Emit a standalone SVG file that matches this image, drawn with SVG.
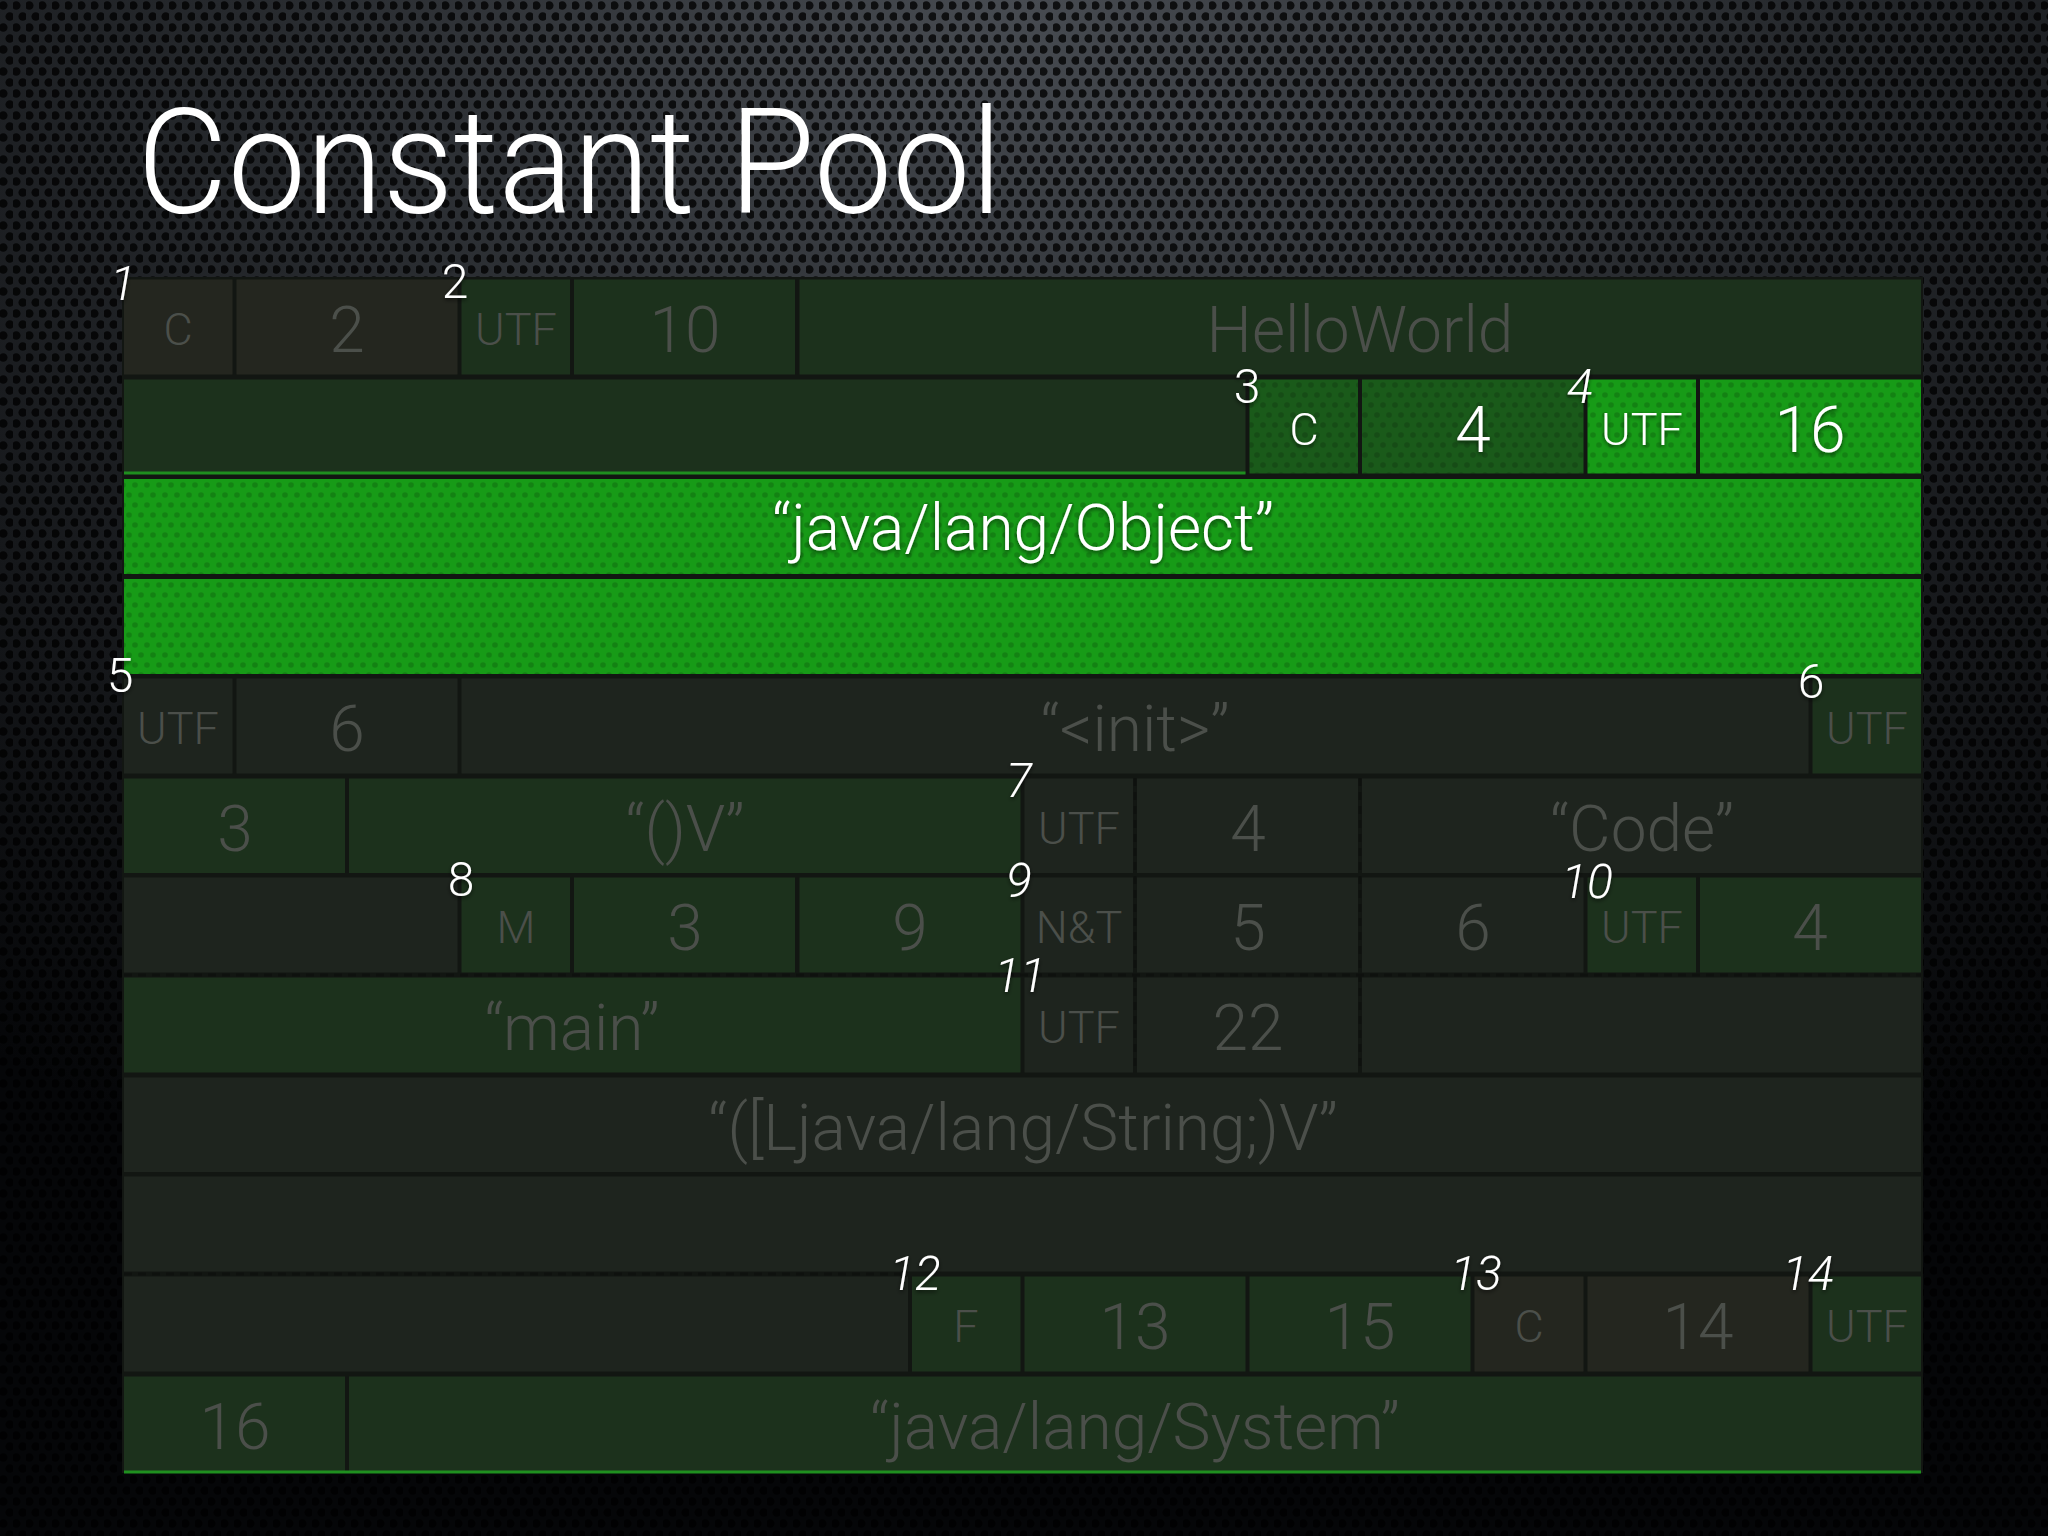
<svg xmlns="http://www.w3.org/2000/svg" width="2048" height="1536" viewBox="0 0 2048 1536">
<defs>
<radialGradient id="bgGrad" cx="50%" cy="0%" r="85%" fx="50%" fy="0%">
<stop offset="0" stop-color="#474b51"/>
<stop offset="0.45" stop-color="#26292d"/>
<stop offset="1" stop-color="#050608"/>
</radialGradient>
<pattern id="mesh" width="13" height="22" patternUnits="userSpaceOnUse">
<circle cx="3.25" cy="5.5" r="4.3" fill="#000" fill-opacity="0.78"/>
<circle cx="9.75" cy="16.5" r="4.3" fill="#000" fill-opacity="0.78"/>
</pattern>
<pattern id="dots" width="12" height="20" patternUnits="userSpaceOnUse">
<circle cx="3" cy="5" r="2.8" fill="#000" fill-opacity="0.16"/>
<circle cx="9" cy="15" r="2.8" fill="#000" fill-opacity="0.16"/>
</pattern>
<filter id="sh" x="-20%" y="-20%" width="140%" height="160%">
<feDropShadow dx="0" dy="2" stdDeviation="2" flood-color="#000" flood-opacity="0.6"/>
</filter>
</defs>
<style>
.g{fill:#179b17}
.gd{fill:#1a5a1a}
.dg{fill:#1c311c}
.dk{fill:#1e241e}
.dc{fill:#24261f}
text{font-family:Roboto,"Liberation Sans",sans-serif;font-weight:300}
.t{text-anchor:middle;fill:#4b4f4a}
.s{font-size:45px}
.l{font-size:64px}
.w{fill:#ffffff}
.idx{font-size:48px;fill:#ffffff;text-anchor:middle;font-style:italic}
.up{font-style:normal}
.sep{stroke:#0e110e;stroke-width:3;stroke-dasharray:8 6;fill:none}
.gl{stroke:#1f8f1f;stroke-width:3;fill:none}
</style>

<!-- background -->
<rect width="2048" height="1536" fill="url(#bgGrad)"/>
<rect width="2048" height="1536" fill="url(#mesh)"/>

<!-- title -->
<text x="137" y="213" font-size="146" fill="#ffffff" textLength="865" lengthAdjust="spacingAndGlyphs">Constant Pool</text>

<!-- grid backing -->
<rect x="122" y="277" width="1801" height="1196" fill="#121612"/>

<!-- Row 0 -->
<g id="r0-C"><rect class="dc" x="124" y="279.5" width="108.5" height="95"/><text class="t s" x="178" y="345">C</text></g>
<g id="r0-2"><rect class="dc" x="236.5" y="279.5" width="221" height="95"/><text class="t l" x="347" y="352">2</text></g>
<g id="r0-UTF"><rect class="dg" x="461.5" y="279.5" width="108.5" height="95"/><text class="t s" x="516" y="345">UTF</text></g>
<g id="r0-10"><rect class="dg" x="574" y="279.5" width="221" height="95"/><text class="t l" x="685" y="352">10</text></g>
<g id="r0-HelloWorld"><rect class="dg" x="799.5" y="279.5" width="1121.5" height="95"/><text class="t l" x="1360" y="352">HelloWorld</text></g>

<!-- Row 1 -->
<g id="r1-blank"><rect class="dg" x="124" y="379.5" width="1121.5" height="94"/><line class="gl" x1="124" y1="473" x2="1245.5" y2="473"/></g>
<g id="r1-C"><rect class="gd" x="1249.5" y="379.5" width="108.5" height="94"/><rect fill="url(#dots)" x="1249.5" y="379.5" width="108.5" height="94"/><text class="t s w" x="1304" y="445" filter="url(#sh)">C</text></g>
<g id="r1-4"><rect class="gd" x="1362" y="379.5" width="221.5" height="94"/><rect fill="url(#dots)" x="1362" y="379.5" width="221.5" height="94"/><text class="t l w" x="1473" y="452" filter="url(#sh)">4</text></g>
<g id="r1-UTF"><rect class="g" x="1587.5" y="379.5" width="108.5" height="94"/><rect fill="url(#dots)" x="1587.5" y="379.5" width="108.5" height="94"/><text class="t s w" x="1642" y="445" filter="url(#sh)">UTF</text></g>
<g id="r1-16"><rect class="g" x="1700" y="379.5" width="221" height="94"/><rect fill="url(#dots)" x="1700" y="379.5" width="221" height="94"/><text class="t l w" x="1810" y="452" filter="url(#sh)">16</text></g>

<!-- Rows 2-3 -->
<g id="r2-object"><rect class="g" x="124" y="479" width="1797" height="95"/><rect fill="url(#dots)" x="124" y="479" width="1797" height="95"/><text class="t l w" x="1023" y="550" filter="url(#sh)">“java/lang/Object”</text></g>
<g id="r3-object"><rect class="g" x="124" y="579" width="1797" height="95"/><rect fill="url(#dots)" x="124" y="579" width="1797" height="95"/></g>

<!-- Row 4 -->
<g id="r4-UTF"><rect class="dk" x="124" y="678.5" width="108.5" height="95"/><text class="t s" x="178" y="744">UTF</text></g>
<g id="r4-6"><rect class="dk" x="236.5" y="678.5" width="221" height="95"/><text class="t l" x="347" y="751">6</text></g>
<g id="r4-init"><rect class="dk" x="461.5" y="678.5" width="1347" height="95"/><text class="t l" x="1135" y="751">“&lt;init&gt;”</text></g>
<g id="r4-UTF6"><rect class="dg" x="1812.5" y="678.5" width="108.5" height="95"/><text class="t s" x="1867" y="744">UTF</text></g>

<!-- Row 5 -->
<g id="r5-3"><rect class="dg" x="124" y="778.5" width="221" height="94.5"/><text class="t l" x="235" y="851">3</text></g>
<g id="r5-V"><rect class="dg" x="349" y="778.5" width="671.5" height="94.5"/><text class="t l" x="685" y="851">“()V”</text></g>
<g id="r5-UTF"><rect class="dk" x="1024.5" y="778.5" width="108.5" height="94.5"/><text class="t s" x="1079" y="844">UTF</text></g>
<g id="r5-4"><rect class="dk" x="1137" y="778.5" width="221" height="94.5"/><text class="t l" x="1248" y="851">4</text></g>
<g id="r5-Code"><rect class="dk" x="1362" y="778.5" width="559" height="94.5"/><text class="t l" x="1642" y="851">“Code”</text></g>

<!-- Row 6 -->
<g id="r6-blank"><rect class="dk" x="124" y="877.5" width="333.5" height="95"/></g>
<g id="r6-M"><rect class="dg" x="461.5" y="877.5" width="108.5" height="95"/><text class="t s" x="516" y="943">M</text></g>
<g id="r6-3"><rect class="dg" x="574" y="877.5" width="221" height="95"/><text class="t l" x="685" y="950">3</text></g>
<g id="r6-9"><rect class="dg" x="799.5" y="877.5" width="221" height="95"/><text class="t l" x="910" y="950">9</text></g>
<g id="r6-NT"><rect class="dk" x="1024.5" y="877.5" width="108.5" height="95"/><text class="t s" x="1079" y="943">N&amp;T</text></g>
<g id="r6-5"><rect class="dk" x="1137" y="877.5" width="221" height="95"/><text class="t l" x="1248" y="950">5</text></g>
<g id="r6-6"><rect class="dk" x="1362" y="877.5" width="221.5" height="95"/><text class="t l" x="1473" y="950">6</text></g>
<g id="r6-UTF"><rect class="dg" x="1587.5" y="877.5" width="108.5" height="95"/><text class="t s" x="1642" y="943">UTF</text></g>
<g id="r6-4"><rect class="dg" x="1700" y="877.5" width="221" height="95"/><text class="t l" x="1810" y="950">4</text></g>

<!-- Row 7 -->
<g id="r7-main"><rect class="dg" x="124" y="977.5" width="896.5" height="95"/><text class="t l" x="572" y="1050">“main”</text></g>
<g id="r7-UTF"><rect class="dk" x="1024.5" y="977.5" width="108.5" height="95"/><text class="t s" x="1079" y="1043">UTF</text></g>
<g id="r7-22"><rect class="dk" x="1137" y="977.5" width="221" height="95"/><text class="t l" x="1248" y="1050">22</text></g>
<g id="r7-blank"><rect class="dk" x="1362" y="977.5" width="559" height="95"/></g>

<!-- Rows 8-9 -->
<g id="r8-string"><rect class="dk" x="124" y="1077.5" width="1797" height="94.5"/><text class="t l" x="1023" y="1150">“([Ljava/lang/String;)V”</text></g>
<g id="r9-blank"><rect class="dk" x="124" y="1176.5" width="1797" height="95"/></g>

<!-- Row 10 -->
<g id="r10-blank"><rect class="dk" x="124" y="1276.5" width="784" height="95"/></g>
<g id="r10-F"><rect class="dg" x="912" y="1276.5" width="108.5" height="95"/><text class="t s" x="966" y="1342">F</text></g>
<g id="r10-13"><rect class="dg" x="1024.5" y="1276.5" width="221" height="95"/><text class="t l" x="1135" y="1349">13</text></g>
<g id="r10-15"><rect class="dg" x="1249.5" y="1276.5" width="221" height="95"/><text class="t l" x="1360" y="1349">15</text></g>
<g id="r10-C"><rect class="dc" x="1474.5" y="1276.5" width="109" height="95"/><text class="t s" x="1529" y="1342">C</text></g>
<g id="r10-14"><rect class="dc" x="1587.5" y="1276.5" width="221" height="95"/><text class="t l" x="1698" y="1349">14</text></g>
<g id="r10-UTF"><rect class="dg" x="1812.5" y="1276.5" width="108.5" height="95"/><text class="t s" x="1867" y="1342">UTF</text></g>

<!-- Row 11 -->
<g id="r11-16"><rect class="dg" x="124" y="1376.5" width="221" height="95"/><text class="t l" x="235" y="1449">16</text></g>
<g id="r11-System"><rect class="dg" x="349" y="1376.5" width="1572" height="95"/><text class="t l" x="1135" y="1449">“java/lang/System”</text></g>
<line class="gl" x1="124" y1="1472" x2="1921" y2="1472"/>

<!-- dashed separators -->
<g id="separators">
<line class="sep" x1="124" y1="975" x2="1921" y2="975"/>
<line class="sep" x1="124" y1="1274" x2="908" y2="1274"/>
<line class="sep" x1="1135" y1="778" x2="1135" y2="1072"/>
<line class="sep" x1="1360" y1="778" x2="1360" y2="1072"/>
</g>

<!-- index labels -->
<g id="labels" filter="url(#sh)">
<text class="idx" x="123" y="300">1</text>
<text class="idx up" x="455" y="298">2</text>
<text class="idx up" x="1247" y="403">3</text>
<text class="idx" x="1580" y="403">4</text>
<text class="idx up" x="120" y="692">5</text>
<text class="idx up" x="1811" y="698">6</text>
<text class="idx" x="1019" y="797">7</text>
<text class="idx up" x="461" y="896">8</text>
<text class="idx" x="1019" y="897">9</text>
<text class="idx" x="1587" y="898">10</text>
<text class="idx" x="1020" y="992">11</text>
<text class="idx" x="915" y="1290">12</text>
<text class="idx" x="1476" y="1290">13</text>
<text class="idx" x="1808" y="1290">14</text>
</g>
</svg>
